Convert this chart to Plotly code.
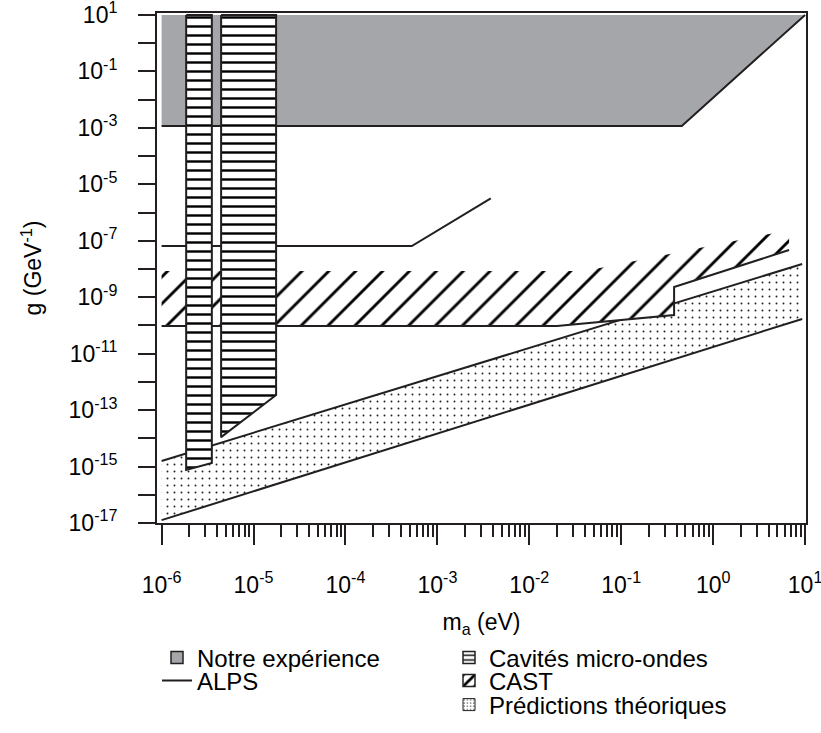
import plotly.graph_objects as go

FONT = "Liberation Sans, Arial, sans-serif"
INK = "#231f20"
GRAY = "#a5a6aa"

# ---- data (m_a in eV, g in GeV^-1) ----
# "Notre expérience" excluded region
exp_m = [1e-6, 10, 0.456, 1e-6]
exp_g = [10, 10, 1.17e-3, 1.17e-3]
exp_edge_m = [1e-6, 0.456, 10]
exp_edge_g = [1.17e-3, 1.17e-3, 10]

# Cavités micro-ondes (two vertical strips)
cavA_m = [1.85e-6, 3.52e-6, 3.52e-6, 1.85e-6, 1.85e-6]
cavA_g = [10, 10, 1.33e-15, 7.6e-16, 10]
cavB_m = [4.44e-6, 1.76e-5, 1.76e-5, 4.44e-6, 4.44e-6]
cavB_g = [10, 10, 3.4e-13, 1.1e-14, 10]

# ALPS limit
alps_m = [1e-6, 5.27e-4, 3.81e-3]
alps_g = [6.5e-8, 6.5e-8, 3.2e-6]

# CAST region
cast_m = [1e-6, 0.0405, 6.7, 6.7, 0.376, 0.376, 0.02, 1e-6]
cast_g = [8.5e-9, 8.5e-9, 2.4e-7, 4.7e-8, 2.3e-9, 2.34e-10, 9.5e-11, 9.5e-11]
cast_edge_m = [1e-6, 0.02, 0.376, 0.376, 6.7]
cast_edge_g = [9.5e-11, 9.5e-11, 2.34e-10, 2.3e-9, 4.7e-8]

# Prédictions théoriques band
th_top_m = [1e-6, 9.3]
th_top_g = [1.58e-15, 1.5e-8]
th_bot_m = [1e-6, 9.3]
th_bot_g = [1.26e-17, 1.7e-10]

x_exps = list(range(-6, 2))
y_exps = list(range(-17, 2))

fig = go.Figure()

# theory band
fig.add_trace(go.Scatter(
    x=th_top_m + th_bot_m[::-1], y=th_top_g + th_bot_g[::-1], mode="lines",
    fill="toself", fillcolor="white", line=dict(width=0), showlegend=False,
    fillpattern=dict(shape=".", size=7, solidity=0.06, fgcolor="#222222", bgcolor="white",
                     fgopacity=1, fillmode="replace")))
for xm, yg in [(th_top_m, th_top_g), (th_bot_m, th_bot_g)]:
    fig.add_trace(go.Scatter(x=xm, y=yg, mode="lines", line=dict(color=INK, width=2), showlegend=False))

# CAST
fig.add_trace(go.Scatter(
    x=cast_m, y=cast_g, mode="lines", fill="toself", fillcolor="white",
    line=dict(width=0), showlegend=False,
    fillpattern=dict(shape="/", size=19, solidity=0.15, fgcolor="black", bgcolor="white",
                     fgopacity=1, fillmode="replace")))
fig.add_trace(go.Scatter(x=cast_edge_m, y=cast_edge_g, mode="lines",
                         line=dict(color=INK, width=2), showlegend=False))

# ALPS
fig.add_trace(go.Scatter(x=alps_m, y=alps_g, mode="lines", name="ALPS",
                         line=dict(color=INK, width=2), legend="legend2"))

# Notre expérience
fig.add_trace(go.Scatter(x=exp_m, y=exp_g, mode="lines", fill="toself", fillcolor=GRAY,
                         line=dict(width=0), showlegend=False))
fig.add_trace(go.Scatter(x=exp_edge_m, y=exp_edge_g, mode="lines",
                         line=dict(color=INK, width=2), showlegend=False))

# Cavités micro-ondes strips
for xm, yg in [(cavA_m, cavA_g), (cavB_m, cavB_g)]:
    fig.add_trace(go.Scatter(
        x=xm, y=yg, mode="lines", fill="toself", fillcolor="white",
        line=dict(color=INK, width=2), showlegend=False,
        fillpattern=dict(shape="-", size=9, solidity=0.27, fgcolor="black", bgcolor="white",
                         fgopacity=1, fillmode="replace")))

# legend swatches
fig.add_trace(go.Bar(x=[None], y=[None], name="Notre expérience", legend="legend",
                     marker=dict(color=GRAY, line=dict(color=INK, width=1.5))))
fig.add_trace(go.Bar(x=[None], y=[None], name="Cavités micro-ondes", legend="legend3",
                     marker=dict(color="white", line=dict(color=INK, width=1.5),
                                 pattern=dict(shape="-", size=6, solidity=0.3, fgcolor="black",
                                              bgcolor="white", fgopacity=1))))
fig.add_trace(go.Bar(x=[None], y=[None], name="CAST", legend="legend4",
                     marker=dict(color="white", line=dict(color=INK, width=1.5),
                                 pattern=dict(shape="/", size=12, solidity=0.35, fgcolor="black",
                                              bgcolor="white", fgopacity=1))))
fig.add_trace(go.Bar(x=[None], y=[None], name="Prédictions théoriques", legend="legend5",
                     marker=dict(color="white", line=dict(color=INK, width=1),
                                 pattern=dict(shape=".", size=4, solidity=0.15, fgcolor="#333",
                                              bgcolor="white", fgopacity=1))))

L, T, W, H = 157, 13, 649, 510
def px(X):
    return (X - L) / W
def py(Y):
    return (T + H - Y) / H

def leg(x, y):
    return dict(x=px(x), y=py(y), xanchor="left", yanchor="middle",
                bgcolor="rgba(0,0,0,0)", font=dict(family=FONT, size=24, color="black"),
                itemwidth=30)

axis_common = dict(type="log", showline=True, mirror=True, linecolor=INK, linewidth=2,
                   ticks="outside", tickcolor=INK, tickwidth=2, showgrid=False, zeroline=False,
                   automargin=False, ticklabeloverflow="allow",
                   tickfont=dict(family=FONT, size=23, color="black"))

minor_x = [k * 10 ** e for e in range(-6, 1) for k in range(2, 10)]

fig.update_layout(
    width=821, height=733,
    margin=dict(l=L, r=821 - L - W, t=T, b=733 - T - H, autoexpand=False),
    plot_bgcolor="white", paper_bgcolor="white",
    font=dict(family=FONT, size=23, color="black"),
    xaxis=dict(axis_common, range=[-6.05, 1.01], tickmode="array",
               tickvals=[10 ** e for e in x_exps],
               ticktext=[f"10<sup>{e}</sup>" for e in x_exps],
               ticklen=20, ticklabelstandoff=20,
               minor=dict(tickmode="array", tickvals=minor_x, ticks="outside", ticklen=12,
                          tickwidth=2, tickcolor=INK),
               title=dict(text="m<sub>a</sub> (eV)", font=dict(family=FONT, size=23), standoff=17)),
    yaxis=dict(axis_common, range=[-17.0, 1.07], tickmode="array",
               tickvals=[10 ** e for e in y_exps],
               ticktext=[f"10<sup>{e}</sup>" if e % 2 else "" for e in y_exps],
               ticklen=17, ticklabelstandoff=16,
               title=dict(text="g (GeV<sup>-1</sup>)", font=dict(family=FONT, size=23), standoff=20)),
    legend=leg(157, 658), legend2=leg(157, 681),
    legend3=leg(449, 658), legend4=leg(449, 681), legend5=leg(449, 705),
)

fig.write_html("out.html", config={"displayModeBar": False},
               post_script="document.body.style.margin='0px';")
